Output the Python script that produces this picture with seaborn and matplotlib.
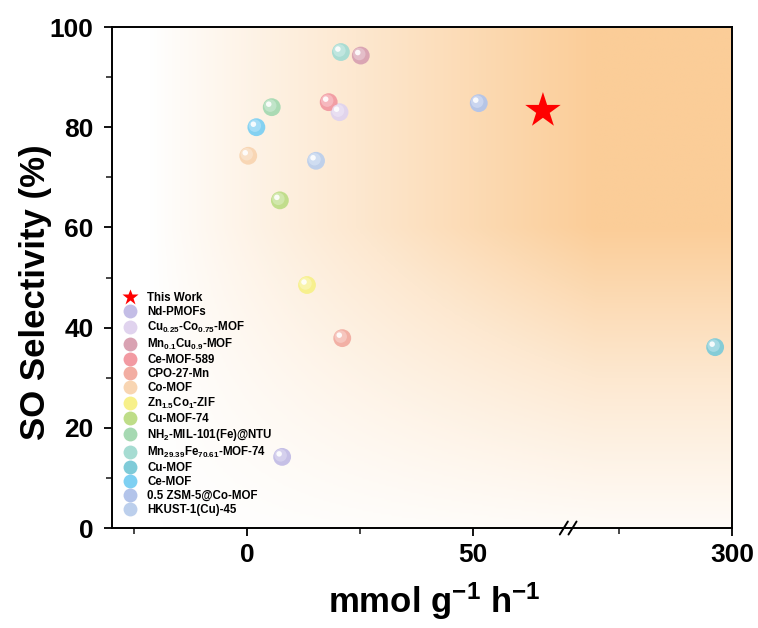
import numpy as np
import pandas as pd
import matplotlib
matplotlib.use("Agg")
import matplotlib.pyplot as plt
import matplotlib.transforms as mtransforms
from matplotlib.lines import Line2D
from matplotlib.colors import to_rgb, LinearSegmentedColormap
import seaborn as sns

# ---------------- data ----------------
materials = [
    "Nd-PMOFs",
    "Cu$_{0.25}$-Co$_{0.75}$-MOF",
    "Mn$_{0.1}$Cu$_{0.9}$-MOF",
    "Ce-MOF-589",
    "CPO-27-Mn",
    "Co-MOF",
    "Zn$_{1.5}$Co$_{1}$-ZIF",
    "Cu-MOF-74",
    "NH$_{2}$-MIL-101(Fe)@NTU",
    "Mn$_{29.39}$Fe$_{70.61}$-MOF-74",
    "Cu-MOF",
    "Ce-MOF",
    "0.5 ZSM-5@Co-MOF",
    "HKUST-1(Cu)-45",
]
rate = [7.7, 20.4, 25.1, 18.0, 21.0, 0.2, 13.2, 7.2, 5.4, 20.7, 296.2, 2.0, 51.2, 15.2]
selectivity = [14.2, 83.0, 94.3, 85.0, 37.9, 74.3, 48.5, 65.4, 84.0, 95.0, 36.1, 80.0, 84.8, 73.3]
colors = ["#c3bde6", "#e0d3ee", "#d9a2b2", "#f29aa2", "#f2ada2", "#f8d5b2",
          "#f7f08a", "#bedd88", "#a6d9b2", "#a6dcd2", "#7fcbd8", "#7ed0f2",
          "#b3c4ea", "#bccfec"]

this_work_label = "This Work"
this_work_rate = [65.4]
this_work_sel = [83.3]

x_ticks = [0, 50, 300]
x_tick_labels = ["0", "50", "300"]
y_ticks = [0, 20, 40, 60, 80, 100]

# ---------------- style ----------------
sns.set_style("ticks")
plt.rcParams["font.family"] = ["Liberation Sans", "DejaVu Sans"]
plt.rcParams["font.weight"] = "bold"
plt.rcParams["text.color"] = "black"
plt.rcParams["axes.labelcolor"] = "black"
plt.rcParams["mathtext.fontset"] = "custom"
plt.rcParams["mathtext.rm"] = "Liberation Sans:bold"
plt.rcParams["mathtext.bf"] = "Liberation Sans:bold"
plt.rcParams["mathtext.it"] = "Liberation Sans:bold"
plt.rcParams["mathtext.default"] = "bf"

fig = plt.figure(figsize=(7.58, 6.28), dpi=100)
ax = fig.add_axes([0.1474, 0.1592, 0.8187, 0.7978])

# broken x axis via piecewise scale
B1, B2, EPS = 70.9, 263.8, 1e-3
GAP = EPS * (B2 - B1)

def fwd(x):
    x = np.asarray(x, dtype=float)
    return np.where(x <= B1, x,
                    np.where(x >= B2, B1 + GAP + (x - B2), B1 + (x - B1) * EPS))

def inv(y):
    y = np.asarray(y, dtype=float)
    return np.where(y <= B1, y,
                    np.where(y >= B1 + GAP, y - B1 - GAP + B2, B1 + (y - B1) / EPS))

# background gradient (axes coords)
nx, ny = 300, 300
u = np.linspace(0, 1, nx)[None, :]
v = np.linspace(0, 1, ny)[:, None]
hu = np.clip((u - 0.06) / 0.72, 0, 1) ** 0.9
hv = np.clip((v + 0.02) / 0.62, 0, 1)
inten = np.clip(hu * (0.2 + 0.8 * hv) * hv ** 0.3, 0, 1)
cmap = LinearSegmentedColormap.from_list("bg", ["#ffffff", "#fde8d0", "#fbcd98"])
ax.imshow(inten, cmap=cmap, origin="lower", extent=[0, 1, 0, 1],
          transform=ax.transAxes, aspect="auto", zorder=0, interpolation="bilinear",
          vmin=0, vmax=1)

df = pd.DataFrame({"rate": rate, "sel": selectivity, "material": materials})
palette = dict(zip(materials, colors))

sns.scatterplot(data=df, x="rate", y="sel", hue="material", palette=palette,
                s=165, edgecolor="none", legend=False, ax=ax, zorder=3, alpha=0.95)

def lighten(c, f):
    r, g, b = to_rgb(c)
    return (r + (1 - r) * f, g + (1 - g) * f, b + (1 - b) * f)

off1 = mtransforms.offset_copy(ax.transData, fig=fig, x=-1.5, y=1.5, units="dots")
off2 = mtransforms.offset_copy(ax.transData, fig=fig, x=-3.0, y=3.0, units="dots")
ax.scatter(df["rate"], df["sel"], s=80, c=[lighten(c, 0.35) for c in colors],
           edgecolor="none", alpha=0.85, transform=off1, zorder=4)
ax.scatter(df["rate"], df["sel"], s=16, c="white", edgecolor="none",
           alpha=0.9, transform=off2, zorder=5)

ax.scatter(this_work_rate, this_work_sel, marker="*", s=720, color="#ff0000",
           edgecolor="none", zorder=6)

ax.set_xscale("function", functions=(fwd, inv))
ax.set_xlim(-30, 300)
ax.set_ylim(0, 100)
ax.set_xticks(x_ticks)
ax.set_xticklabels(x_tick_labels)
ax.set_xticks([-25, 25, 275], minor=True)
ax.set_yticks(y_ticks)
ax.set_yticks([10, 30, 50, 70, 90], minor=True)

for s in ax.spines.values():
    s.set_visible(True)
    s.set_linewidth(1.4)
    s.set_color("black")

ax.tick_params(axis="both", which="major", direction="out", length=6, width=1.3,
               labelsize=19, pad=5, colors="black")
ax.tick_params(axis="y", which="major", pad=7)
ax.tick_params(axis="both", which="minor", direction="out", length=4, width=1.2)
ax.tick_params(top=False, right=False, which="both")
for lab in ax.get_xticklabels() + ax.get_yticklabels():
    lab.set_fontweight("bold")

ax.set_xlabel("mmol g$^{-1}$ h$^{-1}$", fontsize=25, fontweight="bold")
ax.xaxis.set_label_coords(0.52, -0.105)
ax.set_ylabel("SO Selectivity (%)", fontsize=25, fontweight="bold")
ax.yaxis.set_label_coords(-0.097, 0.47)

# break marks (axes coordinates)
for xc in (0.7285, 0.7425):
    ax.plot([xc - 0.0065, xc + 0.0065], [-0.013, 0.013], color="black", lw=1.4,
            transform=ax.transAxes, clip_on=False, zorder=10)

# legend
handles = [Line2D([0], [0], marker="*", linestyle="none", markersize=12,
                  markerfacecolor="#ff0000", markeredgecolor="none",
                  label=this_work_label)]
for m, c in zip(materials, colors):
    handles.append(Line2D([0], [0], marker="o", linestyle="none", markersize=10,
                          markerfacecolor=c, markeredgecolor="none", label=m))
leg = ax.legend(handles=handles, loc="upper left", bbox_to_anchor=(0.005, 0.487),
                frameon=False, fontsize=8.3, labelspacing=0.17, handletextpad=0.9,
                borderaxespad=0.3, handlelength=1.2)
for t in leg.get_texts():
    t.set_fontweight("bold")
    t.set_color("black")

fig.savefig("out.png", dpi=100)
